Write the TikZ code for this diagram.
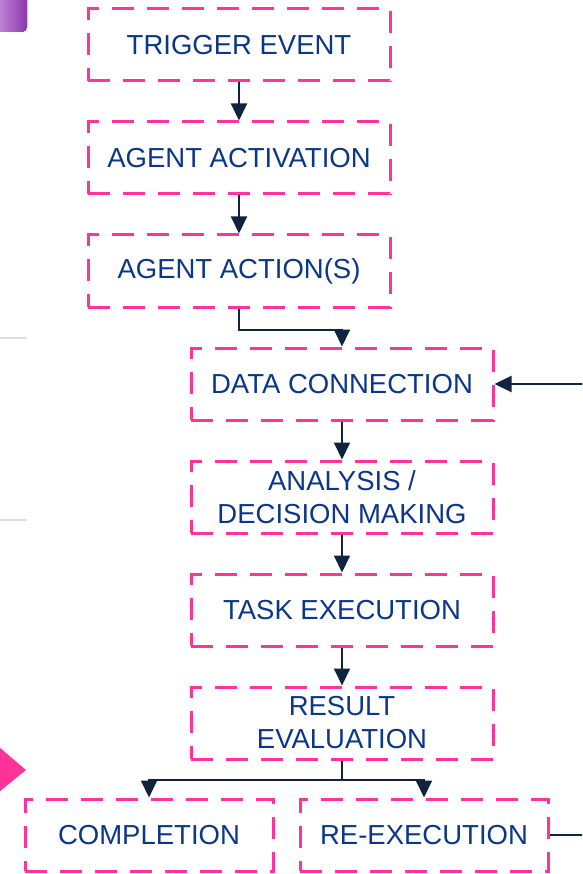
\documentclass[tikz,border=0pt]{standalone}
\usepackage{fontspec}
\setmainfont{Liberation Sans}
\usetikzlibrary{arrows.meta}
\definecolor{pinkline}{HTML}{FF3399}
\definecolor{navytext}{HTML}{0A3789}
\definecolor{arrowc}{HTML}{10233F}
\definecolor{purp}{HTML}{9B3CC2}
\tikzset{
  flowbox/.style={draw=pinkline, line width=3pt, dash pattern=on 22pt off 13pt,
    minimum width=302pt, minimum height=72pt, inner sep=0pt, align=center,
    text=navytext, font=\fontsize{27.5}{33}\selectfont},
  smallbox/.style={flowbox, minimum width=248pt},
  conn/.style={draw=arrowc, line width=2pt, -{Triangle[length=17pt,width=16pt]}},
  plainconn/.style={draw=arrowc, line width=2pt}
}
\begin{document}
\begin{tikzpicture}[x=1pt,y=-1pt]
\useasboundingbox (0,0) rectangle (582,874);
\clip (0,0) rectangle (582,874);
% fragments at left edge
\fill[left color=purp!50, right color=purp!90!black, rounded corners=5pt] (-10,-10) rectangle (27,32);
\draw[gray!25, line width=2pt] (0,338) -- (27,338);
\draw[gray!25, line width=2pt] (0,520) -- (27,520);
\fill[pinkline] (-1,747) -- (26,770) -- (-1,792) -- cycle;
% boxes
\node[flowbox] (trig) at (239,45) {TRIGGER EVENT};
\node[flowbox] (act) at (239,158) {AGENT ACTIVATION};
\node[flowbox] (acts) at (239,271) {AGENT ACTION(S)};
\node[flowbox] (data) at (342,384) {DATA CONNECTION};
\node[flowbox] (anal) at (342,497) {ANALYSIS /\\DECISION MAKING};
\node[flowbox] (task) at (342,610) {TASK EXECUTION};
\node[flowbox] (res) at (342,723) {RESULT\\EVALUATION};
\node[smallbox] (comp) at (149,835) {COMPLETION};
\node[smallbox] (reex) at (424,835) {RE-EXECUTION};
% connectors
\draw[conn] (trig.south) -- (act.north);
\draw[conn] (act.south) -- (acts.north);
\draw[conn] (acts.south) -- ++(0,21) -| (data.north);
\draw[conn] (data.south) -- (anal.north);
\draw[conn] (anal.south) -- (task.north);
\draw[conn] (task.south) -- (res.north);
\draw[plainconn] (res.south) -- ++(0,19) coordinate (sp);
\draw[conn] (sp) -| (comp.north);
\draw[conn] (sp) -| (reex.north);
\coordinate (back) at (600,384);
\draw[conn] (reex.east) -| (back) -- (data.east);
\end{tikzpicture}
\end{document}
